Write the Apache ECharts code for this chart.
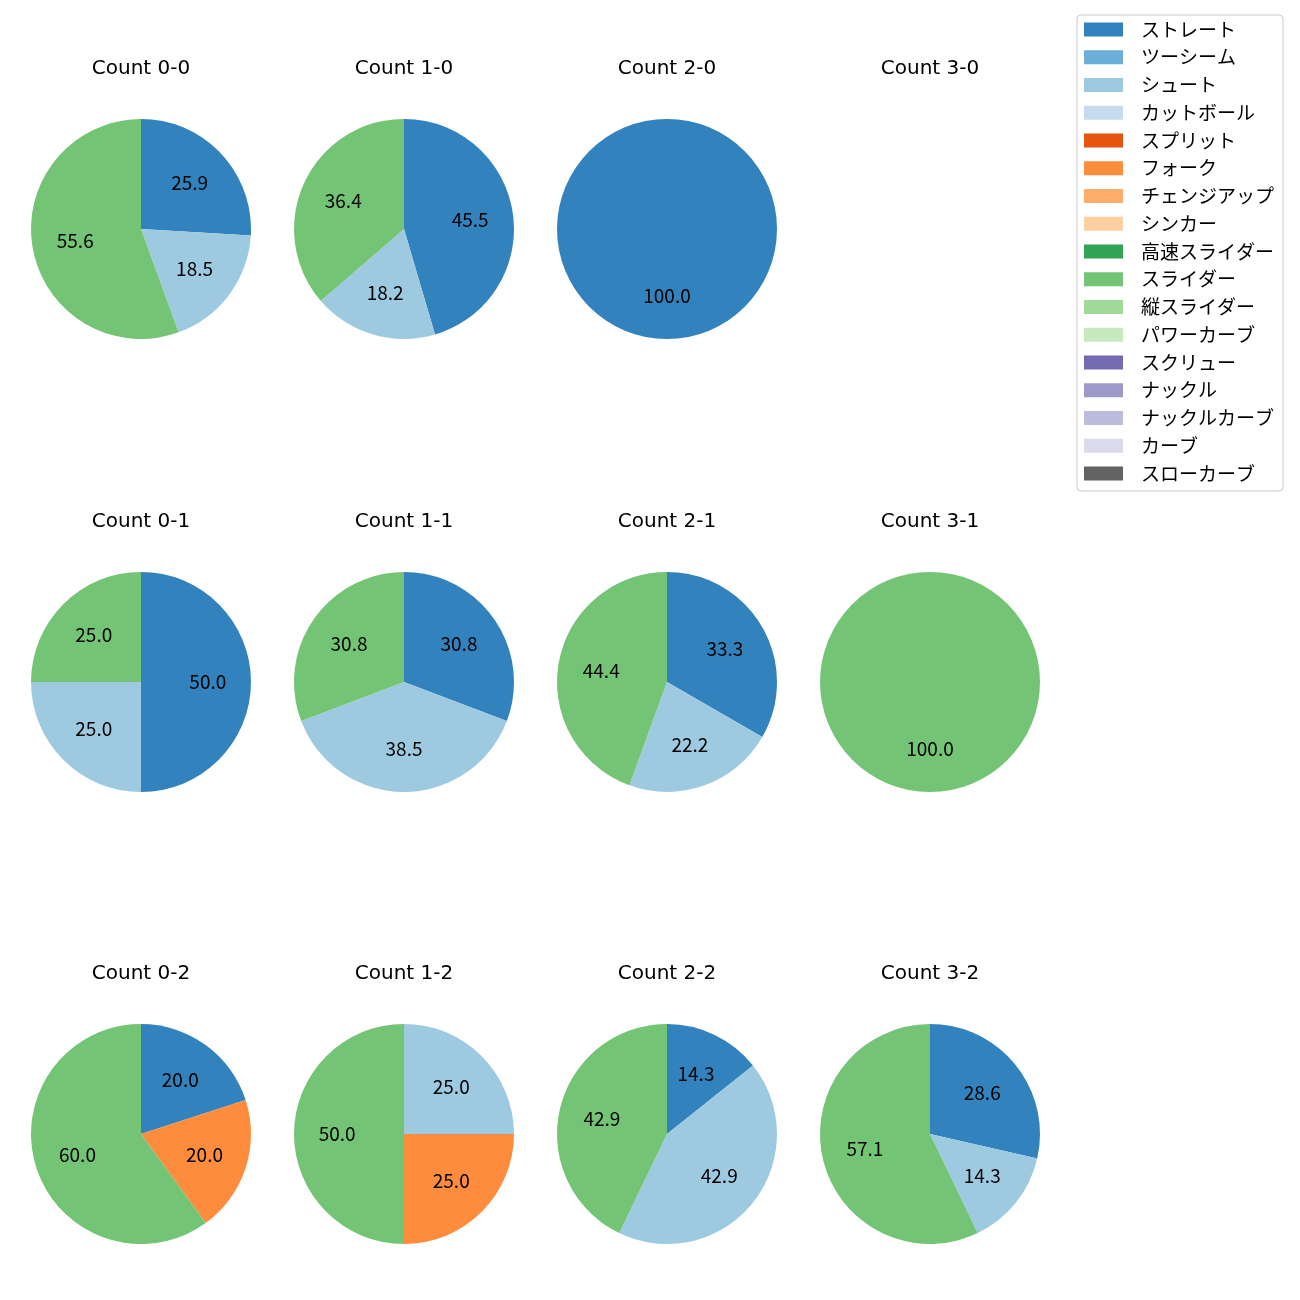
<!DOCTYPE html>
<html>
<head>
<meta charset="utf-8">
<script src="https://cdn.jsdelivr.net/npm/echarts@6/dist/echarts.min.js"></script>
<style>html,body{margin:0;padding:0;background:#fff;}#main{width:1300px;height:1300px;}</style>
</head>
<body>
<div id="main"></div>
<script>
const pitchTypes = ['ストレート','ツーシーム','シュート','カットボール','スプリット','フォーク','チェンジアップ','シンカー','高速スライダー','スライダー','縦スライダー','パワーカーブ','スクリュー','ナックル','ナックルカーブ','カーブ','スローカーブ'];
const pitchColors = ['#3182bd','#6baed6','#9ecae1','#c6dbef','#e6550d','#fd8d3c','#fdae6b','#fdd0a2','#31a354','#74c476','#a1d99b','#c7e9c0','#756bb1','#9e9ac8','#bcbddc','#dadaeb','#636363'];

// pitch counts per ball-strike count, in pitchTypes order
const count00 = [7,0,5,0,0,0,0,0,0,15,0,0,0,0,0,0,0];
const count10 = [5,0,2,0,0,0,0,0,0,4,0,0,0,0,0,0,0];
const count20 = [1,0,0,0,0,0,0,0,0,0,0,0,0,0,0,0,0];
const count30 = [0,0,0,0,0,0,0,0,0,0,0,0,0,0,0,0,0];
const count01 = [2,0,1,0,0,0,0,0,0,1,0,0,0,0,0,0,0];
const count11 = [4,0,5,0,0,0,0,0,0,4,0,0,0,0,0,0,0];
const count21 = [3,0,2,0,0,0,0,0,0,4,0,0,0,0,0,0,0];
const count31 = [0,0,0,0,0,0,0,0,0,1,0,0,0,0,0,0,0];
const count02 = [1,0,0,0,0,1,0,0,0,3,0,0,0,0,0,0,0];
const count12 = [0,0,1,0,0,1,0,0,0,2,0,0,0,0,0,0,0];
const count22 = [1,0,3,0,0,0,0,0,0,3,0,0,0,0,0,0,0];
const count32 = [2,0,1,0,0,0,0,0,0,4,0,0,0,0,0,0,0];

const panelTitles = ['Count 0-0','Count 1-0','Count 2-0','Count 3-0','Count 0-1','Count 1-1','Count 2-1','Count 3-1','Count 0-2','Count 1-2','Count 2-2','Count 3-2'];
const panelData = [count00,count10,count20,count30,count01,count11,count21,count31,count02,count12,count22,count32];

const FONT = '"Noto Sans CJK JP","Noto Sans",sans-serif';
const TITLE_FONT = '"DejaVu Sans","Noto Sans CJK JP",sans-serif';
const colX = [141, 404, 667, 930];
const rowY = [229, 682, 1134];
const R = 110;

const titles = [];
const series = [];

// legend provider (invisible)
series.push({
  type: 'pie', radius: [0, 0], center: [-500, -500], silent: true,
  label: {show: false}, labelLine: {show: false},
  data: pitchTypes.map((n, i) => ({name: n, value: 1, itemStyle: {color: pitchColors[i]}}))
});

panelData.forEach((vals, p) => {
  const cx = colX[p % 4], cy = rowY[Math.floor(p / 4)];
  titles.push({
    text: panelTitles[p], left: cx, top: cy - 170, textAlign: 'center', padding: 0,
    textStyle: {fontFamily: TITLE_FONT, fontSize: 20, fontWeight: 'normal', color: '#000', lineHeight: 20}
  });
  const total = vals.reduce((a, b) => a + b, 0);
  if (total === 0) return;
  const items = [];
  vals.forEach((v, i) => { if (v > 0) items.push({name: pitchTypes[i], value: v, itemStyle: {color: pitchColors[i]}}); });
  series.push({
    type: 'pie', center: [cx, cy], radius: [0, R], startAngle: 90, clockwise: true,
    avoidLabelOverlap: false, silent: true, animation: false,
    itemStyle: {borderWidth: 0},
    label: {show: false}, labelLine: {show: false},
    emphasis: {disabled: true},
    data: items
  });
  series.push({
    type: 'pie', center: [cx, cy], radius: [R * 0.16, R], startAngle: 90, clockwise: true,
    avoidLabelOverlap: false, silent: true, animation: false,
    itemStyle: {color: 'rgba(0,0,0,0)', borderWidth: 0},
    labelLine: {show: false},
    emphasis: {disabled: true},
    label: {
      show: true, position: 'inside', rotate: 0,
      fontFamily: FONT, fontSize: 19, color: '#000',
      formatter: (prm) => (prm.value / total * 100).toFixed(1)
    },
    data: items.map(d => ({name: d.name, value: d.value}))
  });
});

const chart = echarts.init(document.getElementById('main'), null, {renderer: 'canvas'});
chart.setOption({
  backgroundColor: '#fff',
  animation: false,
  title: titles,
  legend: {
    orient: 'vertical', left: 1077, top: 15,
    data: pitchTypes,
    icon: 'rect', itemWidth: 39, itemHeight: 14, itemGap: 8.75,
    padding: [5, 9, 8, 7],
    borderColor: '#cccccc', borderWidth: 1, borderRadius: 4,
    selectedMode: false,
    textStyle: {fontFamily: FONT, fontSize: 19, lineHeight: 19, color: '#000', padding: [0, 0, 0, 13]}
  },
  series: series
});
</script>
</body>
</html>
